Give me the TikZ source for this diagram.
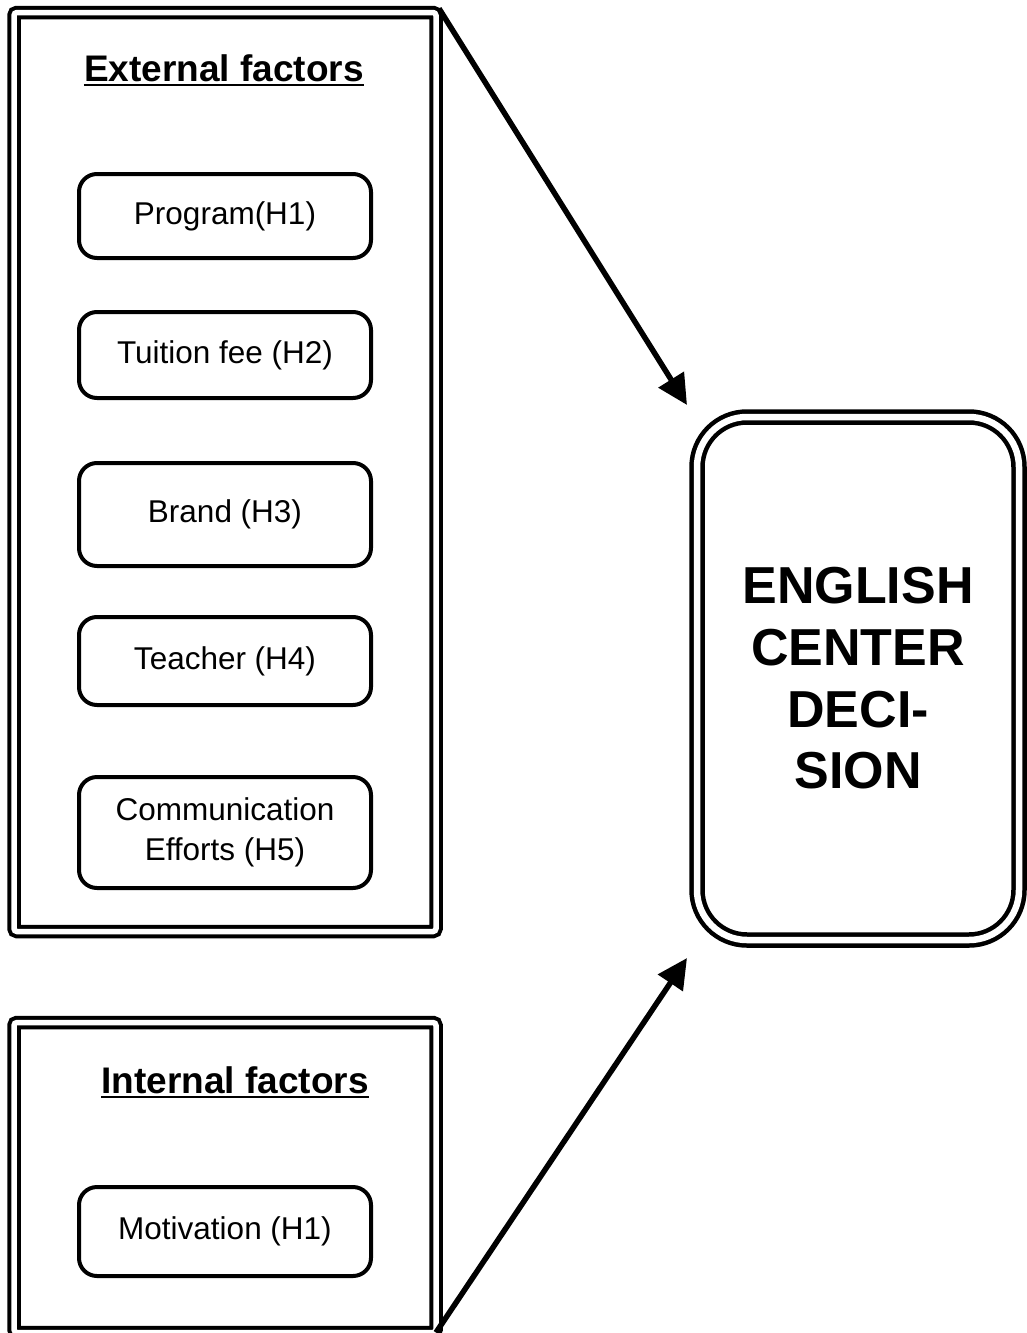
\documentclass[tikz,border=0pt]{standalone}
\usepackage{fontspec}
\setmainfont{Liberation Sans}
\usetikzlibrary{arrows.meta}
\begin{document}
\begin{tikzpicture}[x=1pt,y=-1pt,
  frame/.style={draw, double, line width=4pt, double distance=5.5pt, rounded corners=3pt, inner sep=0pt, outer sep=0pt},
  factor/.style={draw, line width=4pt, rounded corners=18pt, minimum width=292pt, align=center, inner sep=0pt, outer sep=0pt, font=\fontsize{31.5}{40}\selectfont},
  title/.style={inner sep=0pt, anchor=base, font=\bfseries\fontsize{37}{44}\selectfont},
  arr/.style={line width=5.5pt, -{Triangle[length=30pt,width=29pt]}}]
\useasboundingbox (0,0) rectangle (1026,1333);
% factor groups
\node [frame, minimum width=422pt, minimum height=919pt] (ext) at (225,472) {};
\node [frame, minimum width=422pt, minimum height=310pt] (int) at (225,1177.5) {};
\node [title] (exttitle) at (224,81) {External factors};
\draw [line width=2pt] ([yshift=-4pt]exttitle.base west) -- ([yshift=-4pt]exttitle.base east);
\node [title] (inttitle) at (235,1093) {Internal factors};
\draw [line width=2pt] ([yshift=-4pt]inttitle.base west) -- ([yshift=-4pt]inttitle.base east);
% external factors
\node [factor, minimum height=84pt] (program) at (225,216) {Program(H1)};
\node [factor, minimum height=86pt] (tuition) at (225,355) {Tuition fee (H2)};
\node [factor, minimum height=103pt] (brand) at (225,514.5) {Brand (H3)};
\node [factor, minimum height=88pt] (teacher) at (225,661) {Teacher (H4)};
\node [factor, minimum height=111pt] (comm) at (225,832.5) {Communication\\Efforts (H5)};
% internal factors
\node [factor, minimum height=89pt] (motivation) at (225,1231.5) {Motivation (H1)};
% decision
\node [frame, line width=4.5pt, double distance=6.5pt, rounded corners=50pt, minimum width=322pt, minimum height=523pt, align=center, font=\bfseries\fontsize{52}{61.7}\selectfont] (dec) at (858,678.5) {ENGLISH\\CENTER\\DECI-\\SION};
% arrows
\draw [arr] ([shift={(3,-4)}]ext.north east) -- ([shift={(-10,-12)}]dec.north west);
\draw [arr] (int.south east) -- ([shift={(-10,18)}]dec.south west);
\end{tikzpicture}
\end{document}
